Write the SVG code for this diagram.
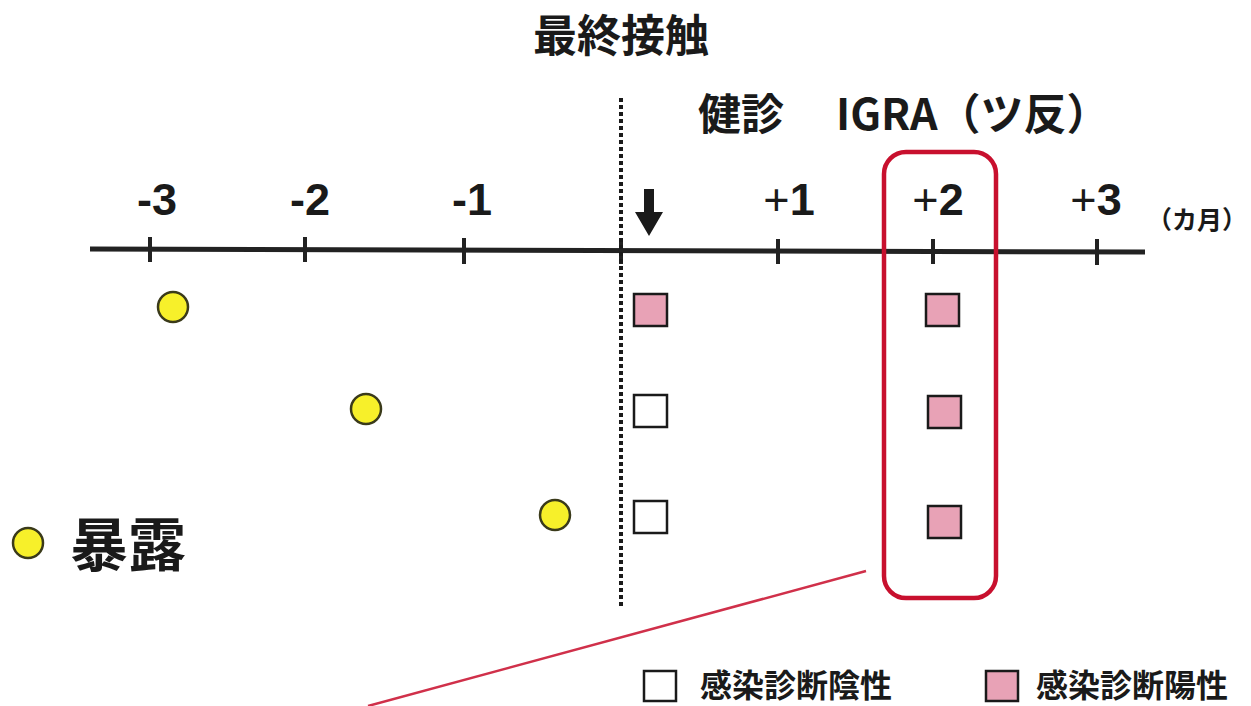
<svg xmlns="http://www.w3.org/2000/svg" width="1251" height="706" viewBox="0 0 1251 706">
<style>
.jp{font-family:"Noto Sans CJK JP","Noto Sans CJK SC",sans-serif;font-weight:bold;fill:#1a1a1a}
.num{font-family:"Liberation Sans",Arial,sans-serif;font-weight:bold;font-size:45px;fill:#1a1a1a;text-anchor:middle}
.plus{font-weight:normal}
.tick{stroke:#222;stroke-width:4}
.exp{fill:#f7f02a;stroke:#3a3a1a;stroke-width:2.5}
.pos{fill:#e8a2b6;stroke:#1a1a1a;stroke-width:2.5}
.neg{fill:#ffffff;stroke:#1a1a1a;stroke-width:2.5}
</style>
<rect width="1251" height="706" fill="#ffffff"/>

<g id="title">
<text class="jp" x="621" y="52" font-size="44" text-anchor="middle">最終接触</text>
</g>
<g id="header">
<text class="jp" x="698" y="130" font-size="43">健診</text>
<text class="jp" x="836" y="130" font-size="43">IGRA（ツ反）</text>
</g>

<g id="connectors">
<line x1="90" y1="249" x2="1145" y2="252" stroke="#222" stroke-width="5"/>
<line class="tick" x1="150" y1="237" x2="150" y2="262"/>
<line class="tick" x1="305" y1="237" x2="305" y2="262"/>
<line class="tick" x1="464" y1="238" x2="464" y2="264"/>
<line class="tick" x1="621" y1="238" x2="621" y2="264"/>
<line class="tick" x1="778" y1="239" x2="778" y2="264"/>
<line class="tick" x1="933" y1="239" x2="933" y2="264"/>
<line class="tick" x1="1097" y1="239" x2="1097" y2="265"/>
<line x1="621" y1="98" x2="621" y2="606" stroke="#1a1a1a" stroke-width="4" stroke-dasharray="4,3"/>
<line x1="866" y1="571" x2="368" y2="706" stroke="#d0304a" stroke-width="2.5"/>
<path d="M644,189 H654 V212 H663 L649,236 L635,212 H644 Z" fill="#1a1a1a"/>
</g>

<g id="axis-labels">
<text class="num" x="157" y="215">-3</text>
<text class="num" x="310" y="215">-2</text>
<text class="num" x="472" y="215">-1</text>
<text class="num" x="789" y="215"><tspan class="plus">+</tspan>1</text>
<text class="num" x="938" y="215"><tspan class="plus">+</tspan>2</text>
<text class="num" x="1096" y="215"><tspan class="plus">+</tspan>3</text>
<text class="jp" x="1147" y="229" font-size="25">（カ月）</text>
</g>

<g id="highlight">
<rect x="884" y="152" width="112" height="446" rx="22" ry="22" fill="none" stroke="#c8102e" stroke-width="4.5"/>
</g>

<g id="exposures">
<circle class="exp" cx="173" cy="307" r="15"/>
<circle class="exp" cx="366" cy="409" r="15"/>
<circle class="exp" cx="555" cy="515" r="15"/>
</g>

<g id="results-0">
<rect class="pos" x="634" y="294" width="33" height="32"/>
<rect class="neg" x="634" y="395" width="33" height="32"/>
<rect class="neg" x="634" y="501" width="33" height="32"/>
</g>
<g id="results-2">
<rect class="pos" x="926" y="294" width="33" height="32"/>
<rect class="pos" x="928" y="396" width="33" height="32"/>
<rect class="pos" x="928" y="506" width="33" height="32"/>
</g>

<g id="legend-exposure">
<circle class="exp" cx="28" cy="543" r="15"/>
<text class="jp" x="70" y="566" font-size="58">暴露</text>
</g>
<g id="legend-negative">
<rect class="neg" x="644" y="671" width="32" height="30"/>
<text class="jp" x="700" y="697" font-size="32">感染診断陰性</text>
</g>
<g id="legend-positive">
<rect class="pos" x="986" y="671" width="32" height="30"/>
<text class="jp" x="1036" y="697" font-size="32">感染診断陽性</text>
</g>
</svg>
